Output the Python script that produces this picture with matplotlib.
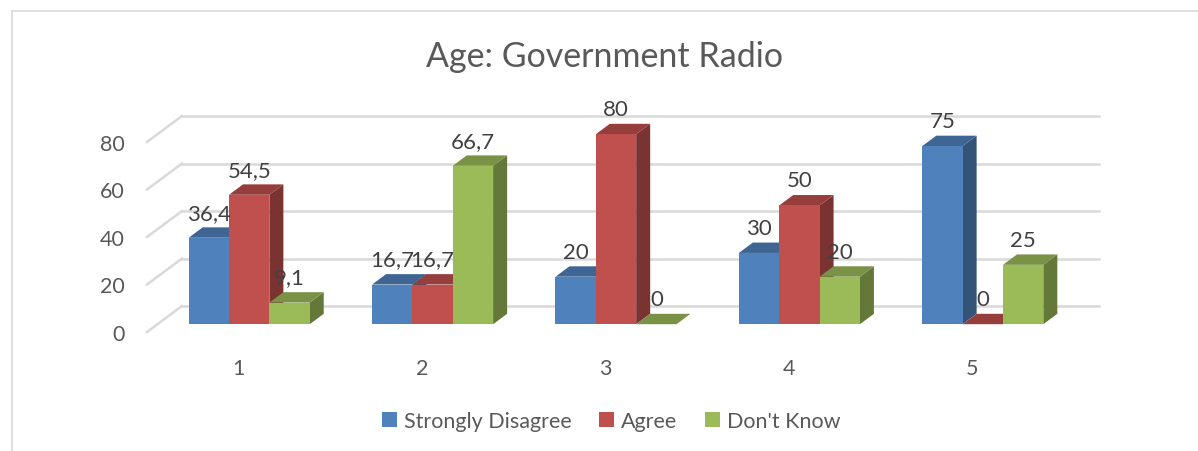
import matplotlib
matplotlib.use("Agg")
import matplotlib.pyplot as plt
from matplotlib.patches import Polygon, Patch
from matplotlib.lines import Line2D
import matplotlib.colors as mc
import numpy as np

# ---- data ----
categories = ["1", "2", "3", "4", "5"]
series_names = ["Strongly Disagree", "Agree", "Don't Know"]
strongly_disagree = [36.4, 16.7, 20, 30, 75]
agree = [54.5, 16.7, 80, 50, 0]
dont_know = [9.1, 66.7, 0, 20, 25]
y_ticks = [0, 20, 40, 60, 80]
title = "Age: Government Radio"

series = [strongly_disagree, agree, dont_know]
colors = ["#4F81BD", "#C0504D", "#9BBB59"]
text_color = "#595959"
grid_color = "#D9D9D9"
FONT = ["Lato", "DejaVu Sans"]
plt.rcParams["font.family"] = FONT


def shade(c, k):
    r, g, b = mc.to_rgb(c)
    return (r * k, g * k, b * k)


W, H = 1198, 452
fig = plt.figure(figsize=(W / 100, H / 100), dpi=100)
fig.patch.set_facecolor("white")

# chart border (top and left visible)
fig.add_artist(Line2D([12 / W, 12 / W], [0, 1 - 12 / H], color=grid_color, lw=1.2))
fig.add_artist(Line2D([12 / W, 1], [1 - 12 / H, 1 - 12 / H], color=grid_color, lw=1.2))

# front plane of the plot
left_px, right_px, zero_px, top_px = 147, 1064, 333, 143
ax = fig.add_axes([left_px / W, (H - zero_px) / H, (right_px - left_px) / W, (zero_px - top_px) / H])
n = len(categories)
ax.set_xlim(0.5, n + 0.5)
ax.set_ylim(0, max(y_ticks))
for s in ax.spines.values():
    s.set_visible(False)
ax.set_facecolor("none")

px_x = (right_px - left_px) / n
px_y = (zero_px - top_px) / max(y_ticks)
DEPTH_PX = (35, 26)


def off(f):
    return f * DEPTH_PX[0] / px_x, f * DEPTH_PX[1] / px_y


# walls gridlines
bx, by = off(1.0)
for v in y_ticks:
    ax.plot([0.5, 0.5 + bx], [v, v + by], color=grid_color, lw=1.8, clip_on=False, zorder=1)
    ax.plot([0.5 + bx, n + 0.5 + bx], [v + by, v + by], color=grid_color, lw=1.8, clip_on=False, zorder=1)

# bars
w = 0.22
fdx, fdy = off(0.3)
sdx, sdy = off(0.4)
x = np.arange(1, n + 1)
z = 2.0
for j in range(n):
    for i, vals in enumerate(series):
        v = vals[j]
        xc = x[j] + (i - 1) * w + fdx
        x0 = xc - w / 2
        y0 = fdy
        side = Polygon([(x0 + w, y0), (x0 + w + sdx, y0 + sdy), (x0 + w + sdx, y0 + v + sdy), (x0 + w, y0 + v)],
                       closed=True, facecolor=shade(colors[i], 0.64), edgecolor="none", zorder=z, clip_on=False)
        ax.add_patch(side)
        top = Polygon([(x0, y0 + v), (x0 + w, y0 + v), (x0 + w + sdx, y0 + v + sdy), (x0 + sdx, y0 + v + sdy)],
                      closed=True, facecolor=shade(colors[i], 0.78), edgecolor="none", zorder=z + 0.001, clip_on=False)
        ax.add_patch(top)
        ax.bar(xc, v, width=w, bottom=y0, color=colors[i], linewidth=0, zorder=z + 0.002, clip_on=False)
        lab = f"{v:g}".replace(".", ",")
        ax.annotate(lab, (xc, y0 + v), xytext=(0, 25), textcoords="offset pixels",
                    ha="center", va="center", fontsize=16, color="#404040", zorder=50, annotation_clip=False)
        z += 0.01

ax.set_xticks(x)
ax.set_xticklabels(categories, fontsize=15.5, color=text_color)
ax.set_yticks(y_ticks)
ax.set_yticklabels([str(t) for t in y_ticks], fontsize=15.5, color=text_color)
ax.tick_params(axis="x", length=0, pad=19)
ax.tick_params(axis="y", length=0, pad=16)

fig.text(605 / W, 1 - 57 / H, title, ha="center", va="center", fontsize=24.5, color=text_color)

handles = [Patch(facecolor=c, edgecolor="none") for c in colors]
fig.legend(handles, series_names, loc="center", bbox_to_anchor=(611 / W, 1 - 422 / H), ncol=3,
           frameon=False, fontsize=15.5, handlelength=0.7, handleheight=0.7, handletextpad=0.3,
           columnspacing=1.3, labelcolor=text_color)

fig.savefig("out.png", dpi=100, facecolor="white")
